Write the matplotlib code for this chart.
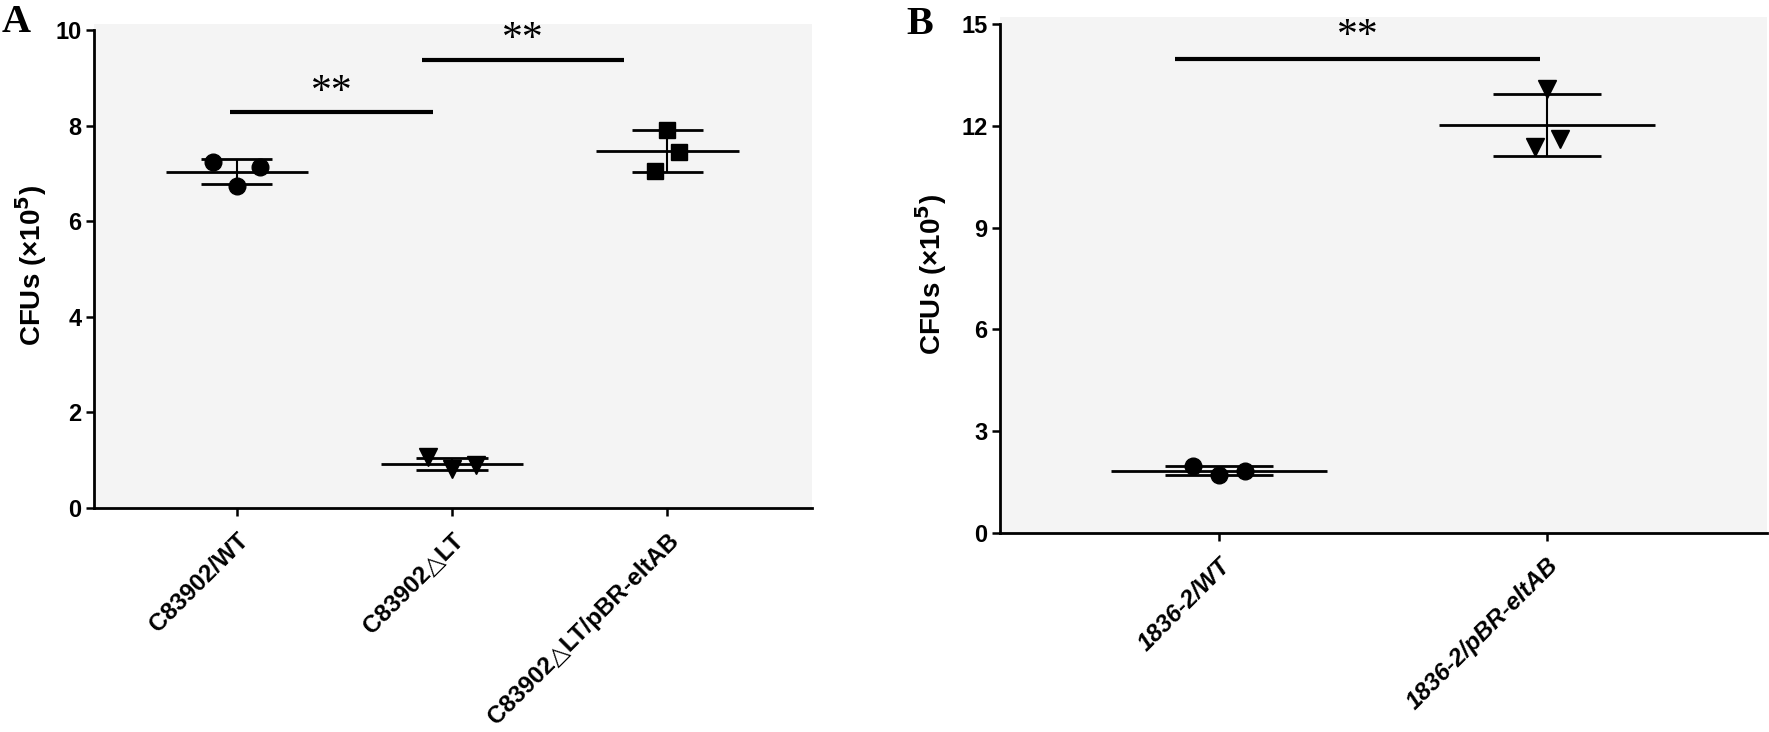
import numpy as np
import matplotlib.pyplot as plt

plt.rcParams["mathtext.default"] = "bf"

# panel A: C83902 strains
groups_a = ["C83902/WT", "C83902\u25b3LT", "C83902\u25b3LT/pBR-eltAB"]
wt_a = [7.24, 6.74, 7.13]
dlt_a = [1.06, 0.82, 0.89]
comp_a = [7.04, 7.91, 7.45]
sig_a_span = [(-0.03, 0.91), (0.86, 1.80)]
sig_a_level = [8.29, 9.38]

# panel B: 1836-2 strains
groups_b = ["1836-2/WT", "1836-2/pBR-eltAB"]
wt_b = [1.98, 1.72, 1.82]
comp_b = [11.38, 13.08, 11.61]
sig_b_span = [(-0.135, 0.98)]
sig_b_level = [13.96]

BG = "#f4f4f4"
FONT = ["Liberation Sans", "DejaVu Sans"]


def draw_group(ax, x, vals, offsets, marker, ms):
    vals = np.array(vals)
    m = vals.mean()
    sd = vals.std(ddof=1)
    ax.hlines(m, x - 0.33, x + 0.33, color="black", lw=2.0, zorder=3)
    ax.hlines([m - sd, m + sd], x - 0.165, x + 0.165, color="black", lw=2.0, zorder=3)
    ax.vlines(x, m - sd, m + sd, color="black", lw=1.5, zorder=3)
    ax.plot(x + np.array(offsets), vals, linestyle="none", marker=marker,
            ms=ms, color="black", zorder=4)


def style_axes(ax, ymax, yticks, labels, italic, label_x):
    ax.set_facecolor(BG)
    ax.spines["top"].set_visible(False)
    ax.spines["right"].set_visible(False)
    ax.spines["left"].set_linewidth(2.0)
    ax.spines["bottom"].set_linewidth(2.0)
    ax.spines["left"].set_bounds(0, ymax)
    ax.set_yticks(yticks)
    ax.set_yticklabels([str(t) for t in yticks], family=FONT,
                       fontweight="bold", fontsize=17)
    ax.set_xticks(range(len(labels)))
    ax.set_xticklabels(labels, rotation=45, ha="right", rotation_mode="anchor",
                       family=FONT, fontweight="bold", fontsize=17.5,
                       style="italic" if italic else "normal")
    ax.tick_params(axis="both", direction="out", width=1.8, length=6)
    ax.tick_params(axis="y", pad=3)
    ax.tick_params(axis="x", pad=9)
    ax.set_ylabel("CFUs (\u00d710$^{5}$)", family=FONT, fontweight="bold",
                  fontsize=20)
    ax.yaxis.label.set_va("center")
    ax.yaxis.set_label_coords(label_x, 0.5)


def draw_sig(ax, spans, levels, offset):
    for (x0, x1), y in zip(spans, levels):
        ax.hlines(y, x0, x1, color="black", lw=3.0)
        ax.annotate("**", ((x0 + x1) / 2, y), xytext=(0, offset),
                    textcoords="offset points", ha="center", va="center",
                    family="Liberation Serif", fontsize=30)


fig = plt.figure(figsize=(17.69, 7.32), dpi=100)

ax1 = fig.add_axes([94 / 1769, (732 - 508) / 732, 718 / 1769, (508 - 24) / 732])
draw_group(ax1, 0, wt_a, [-0.11, 0, 0.11], "o", 12)
draw_group(ax1, 1, dlt_a, [-0.11, 0, 0.11], "v", 13)
draw_group(ax1, 2, comp_a, [-0.06, 0, 0.055], "s", 11)
draw_sig(ax1, sig_a_span, sig_a_level, 14)
ax1.set_xlim(-0.662, 2.671)
ax1.set_ylim(0, 10.125)
style_axes(ax1, 10, [0, 2, 4, 6, 8, 10], groups_a, False, -0.088)

ax2 = fig.add_axes([1000 / 1769, (732 - 533) / 732, 767 / 1769, (533 - 17) / 732])
draw_group(ax2, 0, wt_b, [-0.078, 0, 0.078], "o", 12)
draw_group(ax2, 1, comp_b, [-0.036, 0, 0.04], "v", 13)
draw_sig(ax2, sig_b_span, sig_b_level, 16)
ax2.set_xlim(-0.668, 1.672)
ax2.set_ylim(0, 15.206)
style_axes(ax2, 15, [0, 3, 6, 9, 12, 15], groups_b, True, -0.09)

fig.text(2 / 1769, 1 - 32 / 732, "A", family="Liberation Serif",
         fontweight="bold", fontsize=29, va="baseline", ha="left")
fig.text(906 / 1769, 1 - 34 / 732, "B", family="Liberation Serif",
         fontweight="bold", fontsize=29, va="baseline", ha="left")

fig.savefig("out.png", dpi=100)
